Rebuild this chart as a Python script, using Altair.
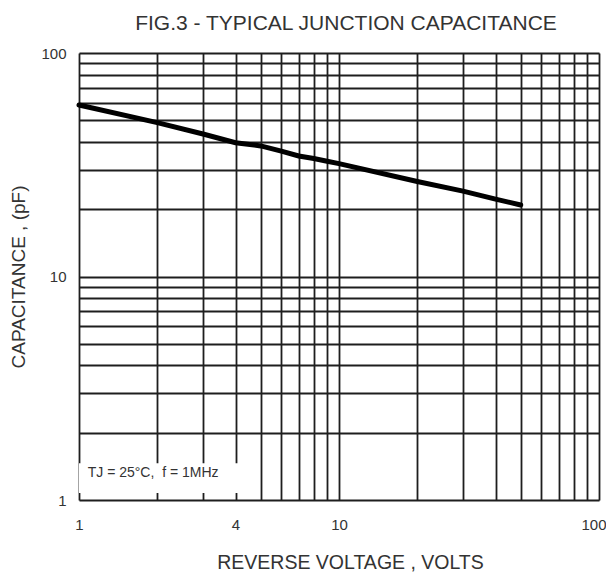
import altair as alt
import pandas as pd

# Curve values
voltage = [1, 2, 3, 4, 5, 6, 7, 8, 9, 10, 20, 30, 40, 50]
capacitance = [58.5, 48.8, 43.4, 39.7, 38.4, 36.4, 34.6, 33.7, 32.8, 32.0, 26.6, 24.1, 22.2, 20.9]

grid_vals = [1, 2, 3, 4, 5, 6, 7, 8, 9, 10, 20, 30, 40, 50, 60, 70, 80, 90, 100]
x_labels = [1, 4, 10, 100]
y_labels = [1, 10, 100]

note_text = ["TJ = 25°C,\u00a0\u00a0f = 1MHz"]
note_x = [1.08]
note_y = [1.32]
box_x = [1.0]
box_x2 = [4.25]
box_y = [1.075]
box_y2 = [1.46]

FONT = "Liberation Sans"
TXT = "#333333"

curve = pd.DataFrame({"v": voltage, "c": capacitance})
box = pd.DataFrame({"x": box_x, "x2": box_x2, "y": box_y, "y2": box_y2})
note = pd.DataFrame({"t": note_text, "x": note_x, "y": note_y})

xlab_expr = " || ".join(f"datum.value == {v}" for v in x_labels)
ylab_expr = " || ".join(f"datum.value == {v}" for v in y_labels)

xscale = alt.Scale(type="log", domain=[1, 100], nice=False)
yscale = alt.Scale(type="log", domain=[1, 100], nice=False)

xaxis = alt.Axis(
    title="REVERSE VOLTAGE , VOLTS",
    values=grid_vals,
    labelExpr=f"({xlab_expr}) ? datum.label : ''",
    grid=True, gridColor="#1e1e1e", gridWidth=1.8, gridOpacity=1,
    ticks=False, domain=False,
    labelFont=FONT, labelFontSize=15, labelColor=TXT, labelPadding=17,
    labelFlush=False,
    labelAlign=alt.condition("datum.value == 100", alt.value("right"), alt.value("center")),
    labelOffset=alt.condition("datum.value == 100", alt.value(7), alt.value(0)),
    titleFont=FONT, titleFontSize=19.5, titleFontWeight="normal", titleColor=TXT,
    titlePadding=21, titleX=271,
)
yaxis = alt.Axis(
    title="CAPACITANCE , (pF)",
    values=grid_vals,
    labelExpr=f"({ylab_expr}) ? datum.label : ''",
    grid=True, gridColor="#1e1e1e", gridWidth=1.8, gridOpacity=1,
    ticks=False, domain=False,
    labelFont=FONT, labelFontSize=15, labelColor=TXT, labelPadding=13,
    labelFlush=False,
    titleFont=FONT, titleFontSize=19, titleFontWeight="normal", titleColor=TXT,
    titlePadding=12,
)

line = alt.Chart(curve).mark_line(color="black", strokeWidth=5, strokeCap="round").encode(
    x=alt.X("v:Q", scale=xscale, axis=xaxis),
    y=alt.Y("c:Q", scale=yscale, axis=yaxis),
)

rect = alt.Chart(box).mark_rect(color="white").encode(
    x=alt.X("x:Q", scale=xscale), x2="x2:Q",
    y=alt.Y("y:Q", scale=yscale), y2="y2:Q",
)

text = alt.Chart(note).mark_text(
    align="left", baseline="middle", font=FONT, fontSize=14, color=TXT
).encode(
    x=alt.X("x:Q", scale=xscale),
    y=alt.Y("y:Q", scale=yscale),
    text="t:N",
)

chart = alt.layer(rect, text, line).properties(
    width=520,
    height=447,
    title=alt.TitleParams(
        "FIG.3 - TYPICAL JUNCTION CAPACITANCE",
        font=FONT, fontSize=21, fontWeight="normal", color=TXT,
        anchor="middle", dx=7, offset=12,
    ),
    autosize=alt.AutoSizeParams(type="none"),
    padding={"left": 71, "top": 45, "right": 7, "bottom": 74},
).configure_view(
    stroke="#1e1e1e", strokeWidth=2
).configure(background="white")

chart.save("out.html", embed_options={"renderer": "svg", "actions": False})
